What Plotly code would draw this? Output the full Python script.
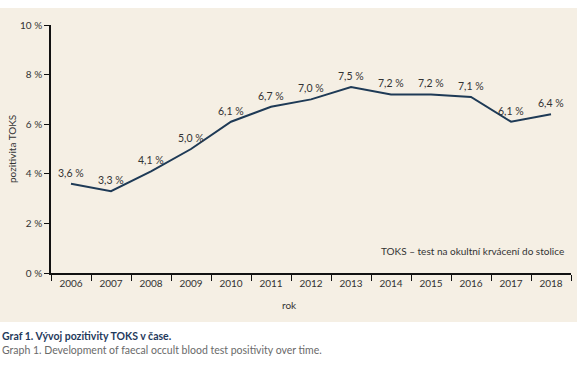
import plotly.graph_objects as go

years = ["2006", "2007", "2008", "2009", "2010", "2011", "2012",
         "2013", "2014", "2015", "2016", "2017", "2018"]
positivity = [3.6, 3.3, 4.1, 5.0, 6.1, 6.7, 7.0, 7.5, 7.2, 7.2, 7.1, 6.1, 6.4]
y_ticks = [0, 2, 4, 6, 8, 10]
y_tick_labels = ["0 %", "2 %", "4 %", "6 %", "8 %", "10 %"]

labels = [f"{v:.1f}".replace(".", ",") + " %" for v in positivity]

FONT = "Lato, 'Open Sans', sans-serif"
BEIGE = "#f5efe4"
NAVY = "#1e3a56"
TXT = "#333333"

fig = go.Figure()
fig.add_trace(go.Scatter(
    x=years, y=positivity, mode="lines",
    line=dict(color=NAVY, width=2),
    hoverinfo="skip", showlegend=False,
))
for i, (v, lab) in enumerate(zip(positivity, labels)):
    fig.add_annotation(x=i, y=v, text=lab, showarrow=False,
                       yanchor="bottom", yshift=3,
                       font=dict(family=FONT, size=10.5, color=TXT))

W, H = 577, 365
L, R, T, B = 51, 6, 25, 92
pw, ph = W - L - R, H - T - B

def px2x(px):
    return (px - L) / pw

def py2y(py):
    return (H - B - py) / ph

fig.add_shape(type="rect", xref="paper", yref="paper",
              x0=px2x(0), x1=px2x(W), y0=py2y(322), y1=py2y(8),
              fillcolor=BEIGE, line=dict(width=0), layer="below")

fig.add_annotation(xref="paper", yref="paper", x=px2x(566), y=py2y(251),
                   text="TOKS – test na okultní krvácení do stolice",
                   showarrow=False, xanchor="right", yanchor="middle",
                   font=dict(family=FONT, size=10, color=TXT))
fig.add_annotation(xref="paper", yref="paper", x=px2x(289), y=py2y(305),
                   text="rok", showarrow=False, xanchor="center", yanchor="middle",
                   font=dict(family=FONT, size=10, color=TXT))
fig.add_annotation(xref="paper", yref="paper", x=px2x(12), y=py2y(149),
                   text="pozitivita TOKS", showarrow=False, textangle=-90,
                   xanchor="center", yanchor="middle",
                   font=dict(family=FONT, size=10, color=TXT))
fig.add_annotation(xref="paper", yref="paper", x=px2x(0), y=py2y(336),
                   text="<b>Graf 1. Vývoj pozitivity TOKS v čase.</b>",
                   showarrow=False, xanchor="left", yanchor="middle",
                   font=dict(family=FONT, size=10.5, color="#1f3a5c"))
fig.add_annotation(xref="paper", yref="paper", x=px2x(0), y=py2y(350),
                   text="Graph 1. Development of faecal occult blood test positivity over time.",
                   showarrow=False, xanchor="left", yanchor="middle",
                   font=dict(family=FONT, size=10.5, color="#6a6a6a"))

fig.update_layout(
    width=W, height=H,
    margin=dict(l=L, r=R, t=T, b=B, pad=0, autoexpand=False),
    paper_bgcolor="white", plot_bgcolor="rgba(0,0,0,0)",
    font=dict(family=FONT, size=10, color=TXT),
    xaxis=dict(type="category", range=[-0.5, 12.5], tickson="boundaries",
               automargin=False,
               ticks="outside", ticklen=6, tickwidth=1.2, tickcolor="#111",
               showline=True, linecolor="#111", linewidth=1.5,
               showgrid=False, zeroline=False,
               tickfont=dict(family=FONT, size=10, color=TXT)),
    yaxis=dict(range=[0, 10], tickvals=y_ticks, ticktext=y_tick_labels,
               automargin=False,
               ticks="outside", ticklen=5, tickwidth=1.2, tickcolor="#111",
               showline=True, linecolor="#111", linewidth=1.5,
               showgrid=False, zeroline=False,
               tickfont=dict(family=FONT, size=10, color=TXT)),
)

fig.write_html("out.html", config={"displayModeBar": False},
               post_script="document.body.style.margin='0';")
